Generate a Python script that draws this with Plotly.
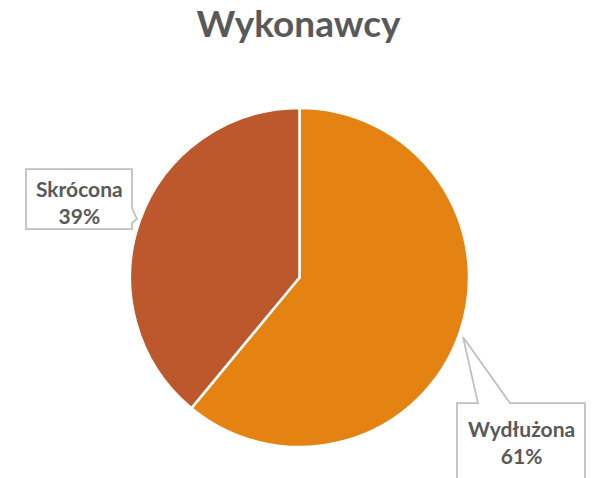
import plotly.graph_objects as go

# dane
labels = ["Wydłużona", "Skrócona"]
values = [61, 39]
colors = ["#E48312", "#BD582C"]

W, H = 597, 478


def px(x):
    return x / W


def py(y):
    return 1 - y / H


fig = go.Figure()
fig.add_trace(go.Pie(
    labels=labels, values=values, sort=False, direction="clockwise", rotation=0,
    marker=dict(colors=colors, line=dict(color="white", width=2.5)),
    textinfo="none", hoverinfo="label+percent", showlegend=False,
    domain=dict(x=[px(129), px(470)], y=[py(447), py(108)]),
))

total = sum(values)
pct = [round(v / total * 100) for v in values]

# dymki (ramki ze wskaznikiem)
callouts = [
    [(457, 403), (478, 403), (463, 337), (510, 403), (585, 403), (585, 492), (457, 492)],
    [(26, 169), (132, 169), (132, 208), (137, 219), (132, 223), (132, 229), (26, 229)],
]
text_pos = [(521, 442), (79.5, 202)]

shapes = []
for pts in callouts:
    path = "M " + " L ".join(f"{px(x):.5f},{py(y):.5f}" for x, y in pts) + " Z"
    shapes.append(dict(type="path", xref="paper", yref="paper", path=path,
                       fillcolor="white", line=dict(color="#BFBFBF", width=1.75)))

annotations = []
for lab, p, (tx, ty) in zip(labels, pct, text_pos):
    annotations.append(dict(
        x=px(tx), y=py(ty), xref="paper", yref="paper", showarrow=False,
        text=f"<b>{lab}</b><br><b>{p}%</b>",
        font=dict(family="Lato", size=21, color="#595959"),
        xanchor="center", yanchor="middle",
    ))

fig.update_layout(
    width=W, height=H,
    margin=dict(l=0, r=0, t=0, b=0),
    paper_bgcolor="white", plot_bgcolor="white",
    title=dict(text="<b>Wykonawcy</b>", x=0.5, xanchor="center", y=py(24), yanchor="middle",
               font=dict(family="Lato", size=37, color="#595959")),
    shapes=shapes,
    annotations=annotations,
)

fig.write_html("out.html", config={"displayModeBar": False},
               post_script="document.body.style.margin='0';")
